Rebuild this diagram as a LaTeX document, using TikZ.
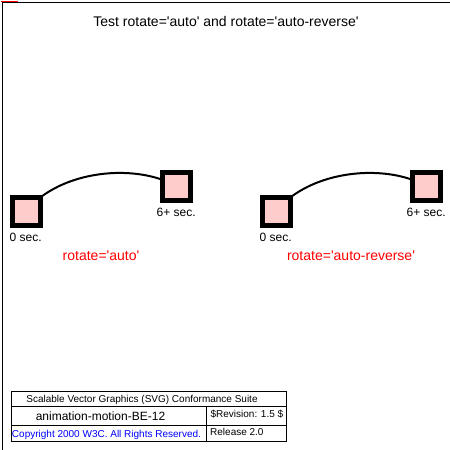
\documentclass[tikz,border=0pt]{standalone}
\usepackage{fontspec}
\setmainfont{Liberation Sans}
\definecolor{sqpink}{HTML}{FFCCCC}
\definecolor{copyblue}{HTML}{0000FF}
\newcommand{\myq}{\textquotesingle}
\pgfdeclarelayer{background}
\pgfsetlayers{background,main}
\tikzset{
  sqbox/.style={shape=rectangle, draw=black, line width=5pt, fill=sqpink, minimum size=28pt, inner sep=0pt},
  timelbl/.style={font=\fontsize{12}{14}\selectfont, anchor=base west, inner sep=0pt},
  redlbl/.style={font=\fontsize{14}{16}\selectfont, text=red, anchor=base, inner sep=0pt},
  motionpath/.style={draw=black, line width=2pt},
  legline/.style={draw=black, line width=1pt},
  legtxt/.style={font=\fontsize{10}{12}\selectfont, anchor=base west, inner sep=0pt}
}
\begin{document}
\begin{tikzpicture}[x=1pt,y=-1pt]
\useasboundingbox (0,0) rectangle (450,450);
% frame
\draw[black, line width=1pt] (2.5,450) -- (2.5,2.5) -- (450,2.5);
\draw[red, line width=1.3pt] (1,1.3) -- (17.5,1.3);
% title
\node[font=\fontsize{14}{16}\selectfont, anchor=base, inner sep=0pt] (title) at (226,26) {Test rotate=\myq auto\myq{} and rotate=\myq auto-reverse\myq};
% left group
\node[sqbox] (a1) at (26,211) {};
\node[sqbox] (a2) at (176,186) {};
\node[timelbl] (a1t) at (9.5,241) {0 sec.};
\node[timelbl] (a2t) at (156.5,216) {6+ sec.};
\node[redlbl] (al) at (101,260) {rotate=\myq auto\myq};
% right group
\node[sqbox] (b1) at (276,211) {};
\node[sqbox] (b2) at (426,186) {};
\node[timelbl] (b1t) at (259.5,241) {0 sec.};
\node[timelbl] (b2t) at (406.5,216) {6+ sec.};
\node[redlbl] (bl) at (351,260) {rotate=\myq auto-reverse\myq};
\begin{pgfonlayer}{background}
\fill[white] (0,0) rectangle (450,450);
\draw[motionpath] (a1.center) .. controls +(35.4,-42.1) and +(-39,-22.5) .. (a2.center);
\draw[motionpath] (b1.center) .. controls +(35.4,-42.1) and +(-39,-22.5) .. (b2.center);
\end{pgfonlayer}
% legend
\draw[legline] (11,391.5) rectangle (286,441);
\draw[legline] (11,406) -- (286,406);
\draw[legline] (11,425) -- (286,425);
\draw[legline] (206,406) -- (206,441);
\node[legtxt] (l1) at (26.2,402.5) {Scalable Vector Graphics (SVG) Conformance Suite};
\node[legtxt, font=\fontsize{12}{14}\selectfont] (l2) at (35.6,420.5) {animation-motion-BE-12};
\node[legtxt] (l3) at (210.4,417) {\$Revision: 1.5 \$};
\node[legtxt, text=copyblue] (l4) at (11.8,437) {Copyright 2000 W3C. All Rights Reserved.};
\node[legtxt] (l5) at (210,435.5) {Release 2.0};
\end{tikzpicture}
\end{document}
